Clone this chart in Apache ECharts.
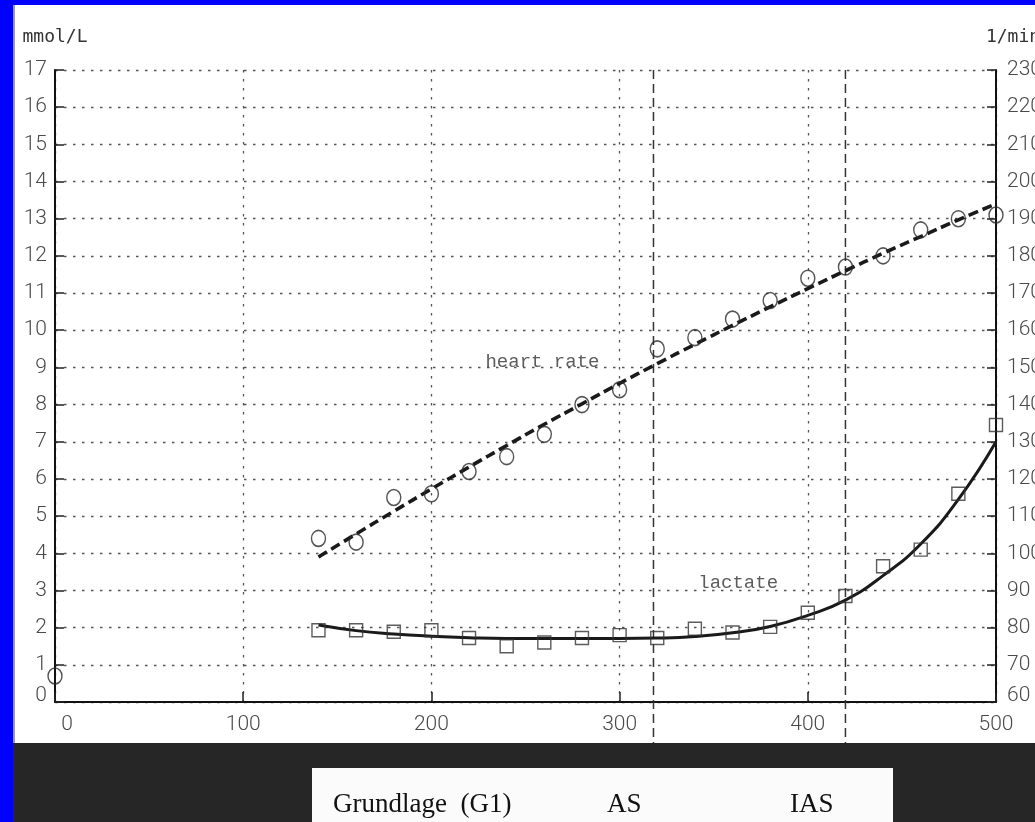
<!DOCTYPE html>
<html><head><meta charset="utf-8">
<script src="https://cdn.jsdelivr.net/npm/echarts@6/dist/echarts.min.js"></script>
<style>html,body{margin:0;padding:0;background:#0000ff;overflow:hidden}#c{width:1035px;height:822px}</style>
</head><body><div id="c"></div>
<script>
// ---- data ----
const power = [140,160,180,200,220,240,260,280,300,320,340,360,380,400,420,440,460,480,500];
const heartRate = [104,103,115,116,122,126,132,140,144,155,158,163,168,174,177,180,187,190,191];
const lactate = [1.93,1.93,1.89,1.93,1.72,1.5,1.6,1.72,1.8,1.72,1.97,1.87,2.02,2.4,2.85,3.65,4.1,5.6,7.45];
const heartRateFit = [99,105.2,111.3,117.3,123.2,129,134.7,140.2,145.7,151,156.2,161.3,166.3,171.2,176,180.7,185.2,189.7,194];
const lactateFit = [2.07,1.92,1.83,1.77,1.73,1.71,1.71,1.71,1.71,1.72,1.76,1.86,2.03,2.33,2.74,3.4,4.25,5.45,7.0];
const restPower = [0];
const restHeartRate = [67];
const thresholdPower = [318, 420];
const thresholdSpan = [17, -1.1];           // lactate-axis units: top grid line down past the labels
const xRange = [0, 500, 100];
const lactateRange = [0, 17, 1];
const heartRateRange = [60, 230, 10];
const axisNames = ['mmol/L', '1/min'];
const annotations = [{name: 'heart rate', value: [259, 9.14]}, {name: 'lactate', value: [363, 3.2]}];
const footerLabels = ['Grundlage  (G1)', 'AS', 'IAS'];

const tickFont = {fontFamily: 'Roboto', fontWeight: 300, fontSize: 21, color: '#4a4a4a'};
const gridDots = {color: '#555', width: 1.3, type: [2.5, 6.5]};
const minRich = {z: {padding: [0, 0, 12, 0], fontFamily: 'Roboto', fontWeight: 300, fontSize: 21, color: '#4a4a4a'}};

const series = [
  {
    type: 'line', yAxisIndex: 1, symbol: 'none', smooth: true, z: 3,
    data: power.map((p, i) => [p, heartRateFit[i]]),
    lineStyle: {color: '#1a1a1a', width: 3.6, type: [10, 5]}
  },
  {
    type: 'line', yAxisIndex: 0, symbol: 'none', smooth: true, z: 3,
    data: power.map((p, i) => [p, lactateFit[i]]),
    lineStyle: {color: '#1a1a1a', width: 3}
  },
  {
    type: 'scatter', yAxisIndex: 1, symbol: 'circle', symbolSize: [14, 16], z: 4,
    data: power.map((p, i) => [p, heartRate[i]]).concat(restPower.map((p, i) => [p, restHeartRate[i]])),
    itemStyle: {color: 'rgba(0,0,0,0)', borderColor: '#2a2a2a', borderWidth: 1.5}
  },
  {
    type: 'scatter', yAxisIndex: 0, symbol: 'rect', symbolSize: 13, z: 4,
    data: power.map((p, i) => [p, lactate[i]]),
    itemStyle: {color: 'rgba(0,0,0,0)', borderColor: '#333', borderWidth: 1.4}
  },
  {
    type: 'scatter', yAxisIndex: 0, symbolSize: 0, z: 5,
    data: annotations,
    label: {show: true, position: 'inside', formatter: '{b}', fontFamily: 'Liberation Mono', fontSize: 19, color: '#333'}
  }
].concat(thresholdPower.map(p => ({
  type: 'line', yAxisIndex: 0, symbol: 'none', clip: false, z: 2,
  data: thresholdSpan.map(v => [p, v]),
  lineStyle: {color: '#333', width: 1.5, type: [9, 5]}
})));

const option = {
  backgroundColor: '#0000ff',
  animation: false,
  grid: {left: 55, right: 39, top: 70, bottom: 120, containLabel: false, outerBoundsMode: 'none'},
  graphic: [
    {type: 'rect', z: -100, shape: {x: 13, y: 5, width: 1022, height: 738}, style: {fill: '#ffffff'}},
    {type: 'rect', z: -99, shape: {x: 13, y: 5, width: 2, height: 738}, style: {fill: '#9a9aa8'}},
    {type: 'rect', z: -100, shape: {x: 13, y: 743, width: 1022, height: 79}, style: {fill: '#262626'}},
    {type: 'rect', z: -99, shape: {x: 312, y: 768, width: 581, height: 60}, style: {fill: '#fbfbfb'}},
    {type: 'text', z: -98, style: {text: footerLabels[0], x: 333, y: 818, font: '27px "Liberation Serif"', fill: '#111', textVerticalAlign: 'bottom'}},
    {type: 'text', z: -98, style: {text: footerLabels[1], x: 607, y: 818, font: '27px "Liberation Serif"', fill: '#111', textVerticalAlign: 'bottom'}},
    {type: 'text', z: -98, style: {text: footerLabels[2], x: 790, y: 818, font: '27px "Liberation Serif"', fill: '#111', textVerticalAlign: 'bottom'}}
  ],
  xAxis: {
    type: 'value', min: xRange[0], max: xRange[1], interval: xRange[2],
    axisLine: {show: true, onZero: false, lineStyle: {color: '#111', width: 2}},
    axisTick: {show: true, inside: true, length: 10, lineStyle: {color: '#222', width: 1.5}},
    axisLabel: Object.assign({margin: 12, formatter: v => v === xRange[0] ? '{z|' + v + '}' : String(v),
      rich: {z: {padding: [0, 0, 0, 24], fontFamily: 'Roboto', fontWeight: 300, fontSize: 21, color: '#4a4a4a'}}}, tickFont),
    splitLine: {show: true, lineStyle: gridDots}
  },
  yAxis: [
    {
      type: 'value', min: lactateRange[0], max: lactateRange[1], interval: lactateRange[2],
      name: axisNames[0], nameLocation: 'end', nameGap: 24,
      nameTextStyle: {fontFamily: 'DejaVu Sans Mono', fontSize: 18, color: '#333'},
      axisLine: {show: true, onZero: false, lineStyle: {color: '#111', width: 2}},
      axisTick: {show: true, inside: true, length: 9, lineStyle: {color: '#222', width: 1.5}},
      axisLabel: Object.assign({margin: 8, formatter: v => v === lactateRange[0] ? '{z|' + v + '}' : String(v), rich: minRich}, tickFont),
      splitLine: {show: true, lineStyle: gridDots}
    },
    {
      type: 'value', position: 'right', min: heartRateRange[0], max: heartRateRange[1], interval: heartRateRange[2],
      name: axisNames[1], nameLocation: 'end', nameGap: 24,
      nameTextStyle: {fontFamily: 'DejaVu Sans Mono', fontSize: 18, color: '#333', padding: [0, 0, 0, 34]},
      axisLine: {show: true, onZero: false, lineStyle: {color: '#111', width: 2}},
      axisTick: {show: true, inside: true, length: 9, lineStyle: {color: '#222', width: 1.5}},
      axisLabel: Object.assign({margin: 11, formatter: v => v === heartRateRange[0] ? '{z|' + v + '}' : String(v), rich: minRich}, tickFont),
      splitLine: {show: false}
    }
  ],
  series: series
};
const chart = echarts.init(document.getElementById('c'), null, {renderer: 'canvas'});
chart.setOption(option);
</script></body></html>
